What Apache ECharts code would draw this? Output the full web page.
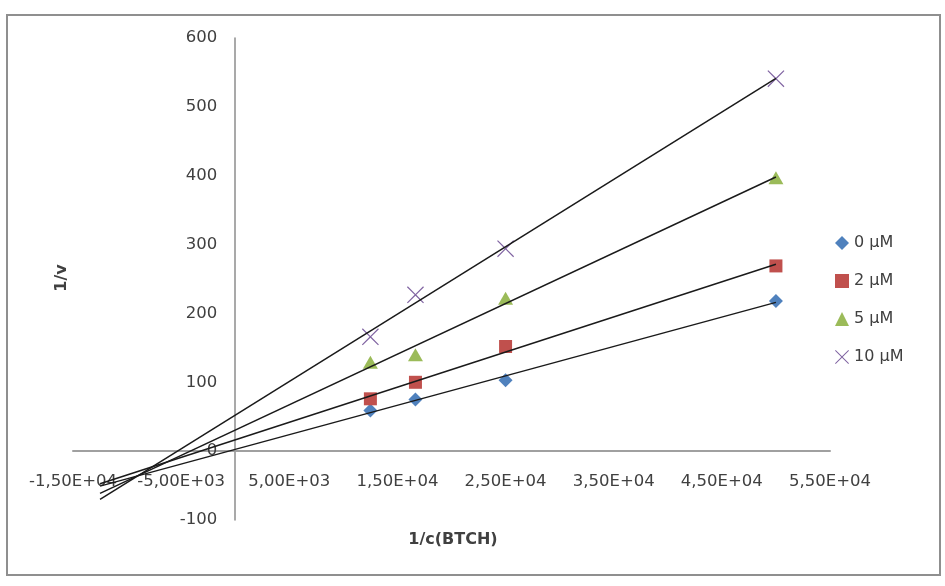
<!DOCTYPE html>
<html>
<head>
<meta charset="utf-8">
<script src="https://cdn.jsdelivr.net/npm/echarts@6/dist/echarts.min.js"></script>
<style>
  html, body { margin: 0; padding: 0; background: #fff; }
  #chart { width: 945px; height: 586px; }
</style>
</head>
<body>
<div id="chart"></div>
<script>
// Lineweaver–Burk plot: 1/v against 1/c(BTCH) for four inhibitor concentrations
const seriesNames = ['0 µM', '2 µM', '5 µM', '10 µM'];
const invConc = [12500, 16667, 25000, 50000];
const inv0uM = [59, 75, 103, 218];
const inv2uM = [76, 100, 152, 269];
const inv5uM = [129, 140, 222, 397];
const inv10uM = [166, 227, 294, 541];

// Trendlines are extended backwards to this abscissa
const trendStart = -12500;

const xMin = -15000, xMax = 55000, xStep = 10000;
const yMin = -100, yMax = 600, yStep = 100;
const xTickLabels = ['-1,50E+04', '-5,00E+03', '5,00E+03', '1,50E+04', '2,50E+04', '3,50E+04', '4,50E+04', '5,50E+04'];
const yTickLabels = ['-100', '0', '100', '200', '300', '400', '500', '600'];

const FONT = '"DejaVu Sans", Verdana, sans-serif';
const TEXT = '#404040';

// plot area
const GRID = { left: 73, right: 115, top: 38, bottom: 66 };
const plotW = 945 - GRID.left - GRID.right;
const plotH = 586 - GRID.top - GRID.bottom;
// shift each axis from the plot edge to the other axis' zero
const xAxisShift = -plotH * (0 - yMin) / (yMax - yMin);
const yAxisShift = -plotW * (0 - xMin) / (xMax - xMin);

const ySets = [inv0uM, inv2uM, inv5uM, inv10uM];
const colors = ['#4f81bd', '#c0504d', '#9bbb59', '#8064a2'];
const crossPath = 'path://M0,1L1,0L10,9L19,0L20,1L11,10L20,19L19,20L10,11L1,20L0,19L9,10Z';
const symbols = ['diamond', 'rect', 'triangle', crossPath];
const sizes = [[14, 14], [13, 13], [15, 13], [17, 17]];

// least-squares line through one data set
function fit(xs, ys) {
  const n = xs.length;
  const mx = xs.reduce((a, b) => a + b, 0) / n;
  const my = ys.reduce((a, b) => a + b, 0) / n;
  let sxy = 0, sxx = 0;
  for (let i = 0; i < n; i++) {
    sxy += (xs[i] - mx) * (ys[i] - my);
    sxx += (xs[i] - mx) * (xs[i] - mx);
  }
  const slope = sxy / sxx;
  return { slope: slope, intercept: my - slope * mx };
}

const series = [];
ySets.forEach(function (ys, i) {
  series.push({
    name: seriesNames[i],
    type: 'scatter',
    symbol: symbols[i],
    symbolSize: sizes[i],
    itemStyle: { color: colors[i], opacity: 1 },
    z: 2,
    data: invConc.map(function (x, j) { return [x, ys[j]]; })
  });
});
ySets.forEach(function (ys, i) {
  const f = fit(invConc, ys);
  const xEnd = invConc[invConc.length - 1];
  series.push({
    name: 'trend ' + seriesNames[i],
    type: 'line',
    symbol: 'none',
    silent: true,
    z: 3,
    lineStyle: { color: '#1a1a1a', width: 1.5 },
    data: [[trendStart, f.intercept + f.slope * trendStart], [xEnd, f.intercept + f.slope * xEnd]]
  });
});

const chart = echarts.init(document.getElementById('chart'), null, { renderer: 'canvas' });
chart.setOption({
  animation: false,
  backgroundColor: '#fff',
  grid: { left: GRID.left, right: GRID.right, top: GRID.top, bottom: GRID.bottom, containLabel: false },
  xAxis: {
    type: 'value',
    position: 'bottom',
    offset: xAxisShift,
    min: xMin, max: xMax, interval: xStep,
    axisLine: { onZero: false, lineStyle: { color: '#a0a0a0', width: 2 } },
    axisTick: { show: false },
    splitLine: { show: false },
    axisLabel: {
      color: TEXT, fontSize: 16.5, fontFamily: FONT, margin: 22,
      formatter: function (v) { return xTickLabels[Math.round((v - xMin) / xStep)]; }
    }
  },
  yAxis: {
    type: 'value',
    position: 'left',
    offset: yAxisShift,
    min: yMin, max: yMax, interval: yStep,
    axisLine: { onZero: false, lineStyle: { color: '#8c8c8c', width: 1.5 } },
    axisTick: { show: false },
    splitLine: { show: false },
    axisLabel: {
      color: TEXT, fontSize: 16.5, fontFamily: FONT, margin: 18,
      formatter: function (v) { return yTickLabels[Math.round((v - yMin) / yStep)]; }
    }
  },
  legend: {
    data: seriesNames,
    orient: 'vertical',
    left: 835, top: 235,
    padding: 0,
    itemWidth: 14, itemHeight: 14, itemGap: 22,
    textStyle: { color: TEXT, fontSize: 16, fontFamily: FONT, lineHeight: 14 }
  },
  graphic: [
    {
      type: 'rect',
      shape: { x: 7, y: 15, width: 933, height: 560 },
      style: { fill: 'none', stroke: '#8f8f8f', lineWidth: 2 },
      silent: true, z: -1
    },
    {
      type: 'text',
      x: 453, y: 540,
      style: {
        text: '1/c(BTCH)', fill: TEXT, font: 'bold 16px ' + FONT,
        textAlign: 'center', textVerticalAlign: 'middle'
      }
    },
    {
      type: 'text',
      x: 62, y: 278,
      rotation: Math.PI / 2,
      style: {
        text: '1/v', fill: TEXT, font: 'bold 16px ' + FONT,
        textAlign: 'center', textVerticalAlign: 'middle'
      }
    }
  ],
  series: series
});
</script>
</body>
</html>
